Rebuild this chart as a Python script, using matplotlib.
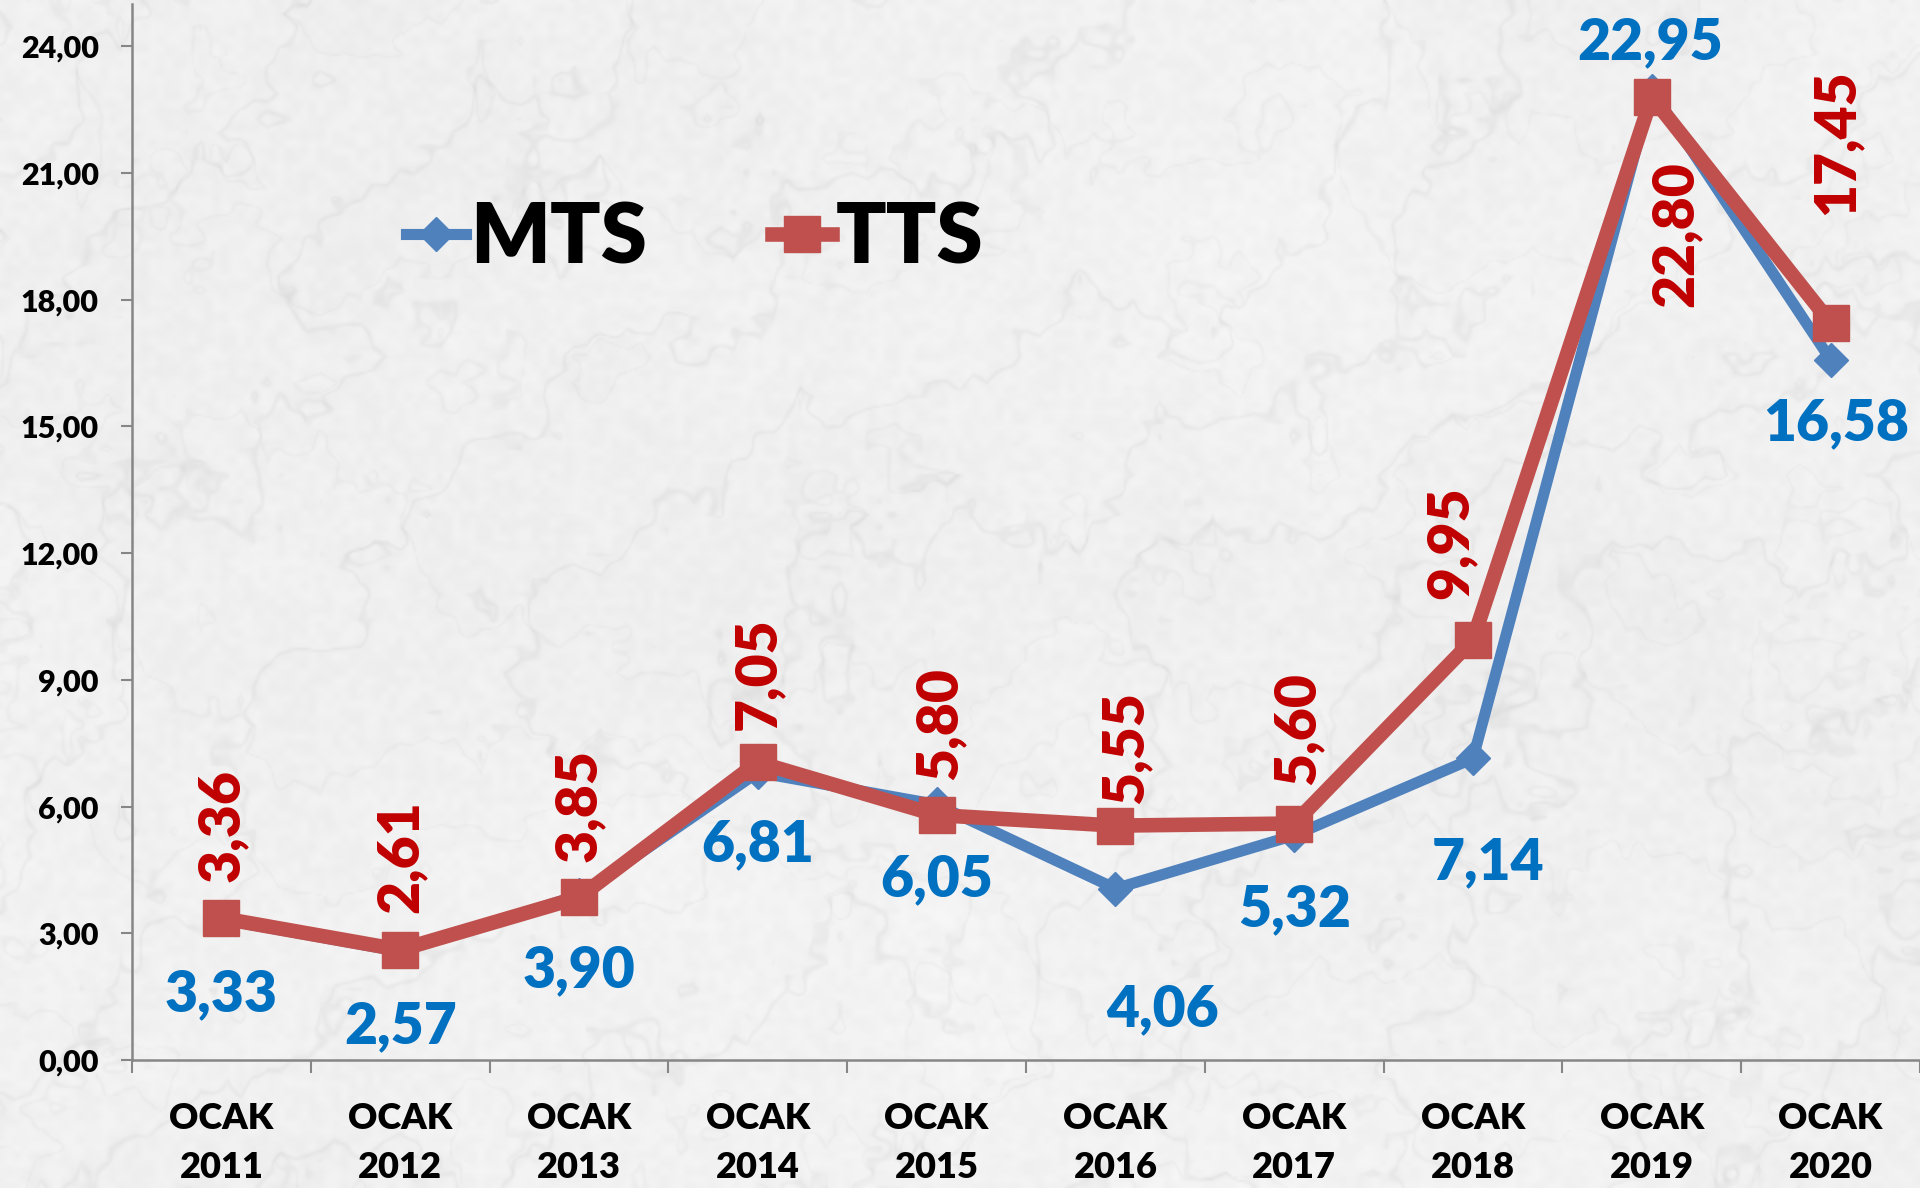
import numpy as np
import matplotlib
matplotlib.use('Agg')
from matplotlib import pyplot as plt
from matplotlib.ticker import FixedLocator, FuncFormatter, NullFormatter

plt.rcParams['font.family'] = ['Lato', 'DejaVu Sans']
plt.rcParams['font.weight'] = 'bold'

MONTH = 'OCAK'
years = ['2011', '2012', '2013', '2014', '2015', '2016', '2017', '2018', '2019', '2020']
mts = [3.33, 2.57, 3.90, 6.81, 6.05, 4.06, 5.32, 7.14, 22.95, 16.58]
tts = [3.36, 2.61, 3.85, 7.05, 5.80, 5.55, 5.60, 9.95, 22.80, 17.45]

# where each value label sits relative to its marker (points)
mts_offsets = [(0, -54), (0, -54), (0, -54), (0, -52), (0, -54),
               (34, -87), (0, -53), (11, -75), (-1, 35), (4, -46)]
tts_offsets = [(0, 67), (0, 67), (0, 66), (0, 64), (2, 66),
               (7, 56), (2, 68), (-16, 70), (17, -99), (4, 130)]

BLUE_LINE = '#4F81BD'
RED_LINE = '#C0504D'
BLUE_TEXT = '#0070C0'
RED_TEXT = '#C00000'
AXIS_GREY = '#868686'
HEAVY = 'heavy'


def smooth_noise(rng, shape, cells):
    coarse = rng.random((cells[0] + 1, cells[1] + 1))
    xi = np.linspace(0, cells[1], shape[1])
    yi = np.linspace(0, cells[0], shape[0])
    rows = np.array([np.interp(xi, np.arange(cells[1] + 1), r) for r in coarse])
    return np.array([np.interp(yi, np.arange(cells[0] + 1), c) for c in rows.T]).T


def marble(shape, seed=7):
    rng = np.random.default_rng(seed)
    turb = np.zeros(shape)
    for k, amp in [((4, 6), 1.0), ((10, 16), 0.5), ((30, 48), 0.25), ((90, 144), 0.12)]:
        turb += amp * smooth_noise(rng, shape, k)
    yy, xx = np.mgrid[0:1:shape[0] * 1j, 0:1:shape[1] * 1j]
    v1 = np.abs(np.sin((xx * 1.6 + yy * 1.0) * 14 + 7 * turb))
    v2 = np.abs(np.sin((xx * 0.7 - yy * 1.2) * 10 + 9 * turb))
    veins = np.exp(-(v1 / 0.10) ** 2) * 0.035 + np.exp(-(v2 / 0.08) ** 2) * 0.025
    fine = smooth_noise(rng, shape, (150, 240))
    return np.clip(0.975 - veins - 0.035 * (turb / turb.max()) - 0.025 * fine, 0, 1)


fig = plt.figure(figsize=(19.2, 11.88), dpi=100)

bg = fig.add_axes([0, 0, 1, 1], zorder=0)
bg.imshow(marble((594, 960)), cmap='gray', vmin=0, vmax=1, aspect='auto',
          interpolation='bilinear')
bg.axis('off')

ax = fig.add_axes([0.06875, 0.1077, 0.93125, 0.8889], zorder=1)
ax.set_facecolor('none')

x = np.arange(len(years))
ax.plot(x, mts, color=BLUE_LINE, lw=8, marker='D', ms=17.5, label='MTS', zorder=3)
ax.plot(x, tts, color=RED_LINE, lw=10.5, marker='s', ms=26.5, label='TTS', zorder=4)

for xi, v, (dx, dy) in zip(x, mts, mts_offsets):
    ax.annotate(f'{v:.2f}'.replace('.', ','), (xi, v), xytext=(dx, dy),
                textcoords='offset points', ha='center', va='center',
                fontsize=41, fontweight=HEAVY, color=BLUE_TEXT, zorder=5,
                annotation_clip=False)
for xi, v, (dx, dy) in zip(x, tts, tts_offsets):
    ax.annotate(f'{v:.2f}'.replace('.', ','), (xi, v), xytext=(dx, dy),
                textcoords='offset points', ha='center', va='center',
                rotation=90, fontsize=41, fontweight=HEAVY, color=RED_TEXT,
                zorder=5, annotation_clip=False)

ax.set_xlim(-0.5, len(years) - 0.5)
ax.set_ylim(0, 25)
ax.yaxis.set_major_locator(FixedLocator(np.arange(0, 25, 3)))
ax.yaxis.set_major_formatter(FuncFormatter(lambda v, p: f'{v:.2f}'.replace('.', ',')))
ax.xaxis.set_major_locator(FixedLocator(np.arange(-0.5, len(years), 1)))
ax.xaxis.set_major_formatter(NullFormatter())
ax.xaxis.set_minor_locator(FixedLocator(x))
ax.set_xticklabels([f'{MONTH}\n{y}' for y in years], minor=True, linespacing=1.6)

ax.tick_params(axis='x', which='major', length=9.5, width=1.5, color=AXIS_GREY)
ax.tick_params(axis='x', which='minor', length=0, pad=30, labelsize=26)
ax.tick_params(axis='y', length=8, width=1.5, color=AXIS_GREY, pad=16, labelsize=22)
for lbl in ax.get_xticklabels(minor=True) + ax.get_yticklabels():
    lbl.set_fontweight(HEAVY)

for side in ('top', 'right'):
    ax.spines[side].set_visible(False)
for side in ('left', 'bottom'):
    ax.spines[side].set_color(AXIS_GREY)
    ax.spines[side].set_linewidth(1.8)

leg = ax.legend(loc='center left', bbox_to_anchor=(406 / 1920, 1 - 239 / 1188),
                bbox_transform=fig.transFigure, ncol=2, frameon=False, fontsize=60,
                handlelength=0.72, handletextpad=0.05, columnspacing=1.5,
                borderpad=0, borderaxespad=0, numpoints=1)
for t in leg.get_texts():
    t.set_fontweight(HEAVY)

fig.savefig('out.png', dpi=100)
